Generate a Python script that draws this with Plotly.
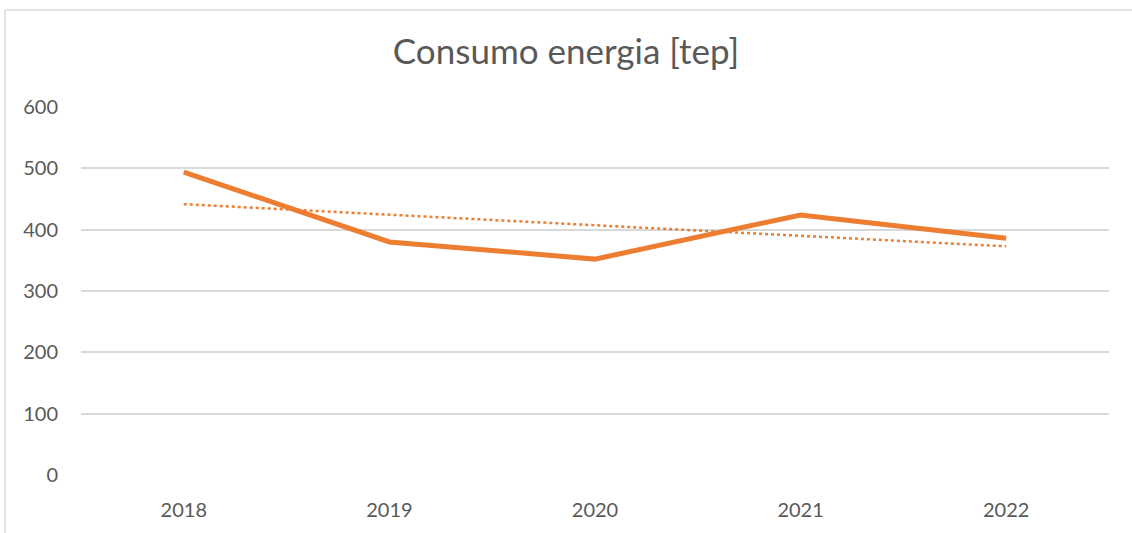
import plotly.graph_objects as go

# dati
anni = ["2018", "2019", "2020", "2021", "2022"]
consumo = [494, 380, 352, 424, 386]

# linea di tendenza lineare (minimi quadrati sui dati)
n = len(consumo)
xs = list(range(n))
mx = sum(xs) / n
my = sum(consumo) / n
b = sum((x - mx) * (y - my) for x, y in zip(xs, consumo)) / sum((x - mx) ** 2 for x in xs)
a = my - b * mx
tendenza = [a + b * x for x in xs]

arancio = "#ED7D31"
grigio = "#595959"

fig = go.Figure()
fig.add_trace(go.Scatter(x=anni, y=tendenza, mode="lines",
                         line=dict(color=arancio, width=2.5, dash="dot"), hoverinfo="skip"))
fig.add_trace(go.Scatter(x=anni, y=consumo, mode="lines",
                         line=dict(color=arancio, width=5)))

# cornice dell'area grafico (solo lato sinistro e superiore visibili)
fig.add_shape(type="line", xref="paper", yref="paper", x0=-0.0739, x1=1.03, y0=1.2636, y1=1.2636,
              line=dict(color="#D9D9D9", width=1.5))
fig.add_shape(type="line", xref="paper", yref="paper", x0=-0.0739, x1=-0.0739, y0=1.2636, y1=-0.2,
              line=dict(color="#D9D9D9", width=1.5))

fig.update_layout(
    width=1132, height=533,
    margin=dict(l=81, r=23, t=107, b=58),
    paper_bgcolor="white", plot_bgcolor="white",
    showlegend=False,
    font=dict(family="Lato, Open Sans, sans-serif", color=grigio, size=20),
    title=dict(text="Consumo energia [tep]", x=0.5, xanchor="center", y=0.902, yanchor="middle",
               font=dict(size=35, color=grigio)),
)
fig.update_xaxes(type="category", range=[-0.5, 4.5], showgrid=False, showline=False,
                 ticks="", ticklabelstandoff=21)
fig.update_yaxes(range=[0, 600], dtick=100, showgrid=True, gridcolor="#D9D9D9", gridwidth=1.5,
                 zeroline=False, showline=False, ticks="", ticklabelstandoff=22)

fig.write_html("out.html", config={"displayModeBar": False},
               post_script="document.body.style.margin='0';")
